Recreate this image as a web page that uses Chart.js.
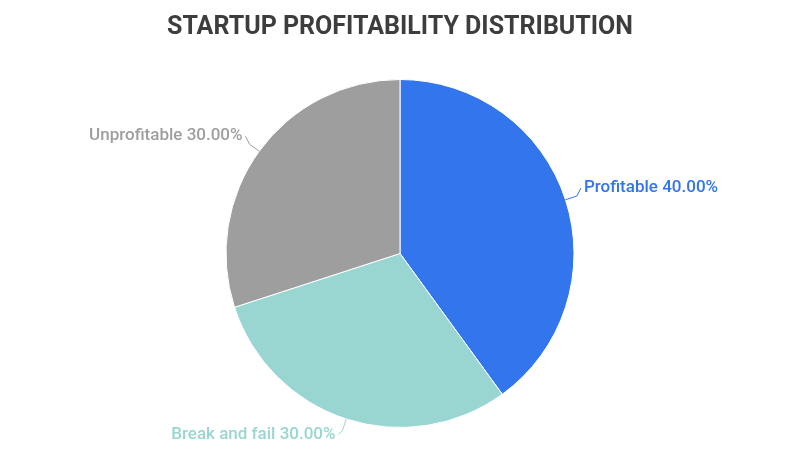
<!DOCTYPE html>
<html>
<head>
<meta charset="utf-8">
<script src="https://cdn.jsdelivr.net/npm/chart.js@4/dist/chart.umd.min.js"></script>
<style>
  html, body { margin: 0; padding: 0; background: #fff; }
  #wrap { width: 800px; height: 459px; }
</style>
</head>
<body>
<div id="wrap"><canvas id="pieChart"></canvas></div>
<script>
const categories = ['Profitable', 'Break and fail', 'Unprofitable'];
const shares = [40, 30, 30];
const sliceColors = ['#3275ec', '#99d6d1', '#9e9e9e'];

// outside labels with leader lines
const outsideLabels = {
    id: 'outsideLabels',
    afterDatasetsDraw(chart) {
        const { ctx } = chart;
        const arcs = chart.getDatasetMeta(0).data;
        ctx.save();
        ctx.font = '500 17px Roboto';
        arcs.forEach((arc, i) => {
            const mid = (arc.startAngle + arc.endAngle) / 2;
            const cos = Math.cos(mid), sin = Math.sin(mid);
            const r = arc.outerRadius;
            const x0 = arc.x + cos * r, y0 = arc.y + sin * r;
            const x1 = arc.x + cos * (r + 12), y1 = arc.y + sin * (r + 12);
            const right = cos >= 0;
            const x2 = x1 + (right ? 4 : -4);
            const y2 = y1 - (sin < -0.3 ? 8 : sin > 0.8 ? -4 : 4);
            ctx.strokeStyle = sliceColors[i];
            ctx.lineWidth = 1;
            ctx.beginPath();
            ctx.moveTo(x0, y0);
            ctx.lineTo(x1, y1);
            ctx.lineTo(x2, y2);
            ctx.stroke();
            ctx.fillStyle = sliceColors[i];
            ctx.textAlign = right ? 'left' : 'right';
            ctx.textBaseline = 'middle';
            const text = categories[i] + ' ' + shares[i].toFixed(2) + '%';
            ctx.fillText(text, x2 + (right ? 3 : -3), y2);
        });
        ctx.restore();
    },
};

new Chart(document.getElementById('pieChart'), {
    type: 'pie',
    data: {
        labels: categories,
        datasets: [{
            data: shares,
            backgroundColor: sliceColors,
            borderColor: '#ffffff',
            borderWidth: 1,
        }],
    },
    options: {
        responsive: true,
        maintainAspectRatio: false,
        animation: false,
        layout: { padding: { top: 0, bottom: 31, left: 100, right: 100 } },
        plugins: {
            legend: { display: false },
            tooltip: { enabled: false },
            title: {
                display: true,
                text: 'STARTUP PROFITABILITY DISTRIBUTION',
                color: '#3d3d3d',
                font: { family: 'Roboto', size: 25, weight: 'bold' },
                padding: { top: 13, bottom: 36 },
            },
        },
    },
    plugins: [outsideLabels],
});
</script>
</body>
</html>
